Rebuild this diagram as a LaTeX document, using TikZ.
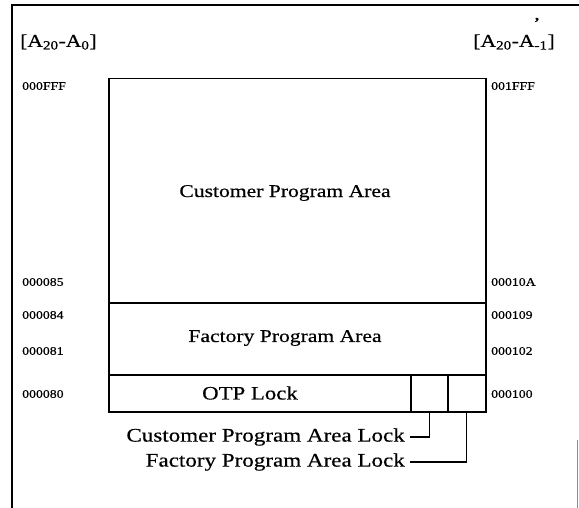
\documentclass[tikz,border=0pt]{standalone}
\usepackage{fontspec}
\setmainfont{Liberation Serif}[FakeStretch=1.2,FakeBold=0.5]
\begin{document}
\begin{tikzpicture}[x=1pt,y=-1pt,
  area/.style={draw,line width=1.5pt,inner sep=0pt,anchor=north west},
  big/.style={font=\fontsize{18}{20}\selectfont,inner sep=2pt},
  lbl/.style={font=\fontsize{19.2}{21}\selectfont,inner sep=5pt},
  addr/.style={font=\fontsize{11.5}{13}\selectfont,inner sep=0pt},
  hdr/.style={font=\fontsize{18}{20}\selectfont,inner sep=0pt},
  frame/.style={line width=2pt},
  lead/.style={line width=1.3pt}]
\useasboundingbox (0,0) rectangle (579,508);
% outer frame
\coordinate (ftl) at (12,5);
\coordinate (fbl) at (12,508);
\coordinate (ftr) at (579,5);
\coordinate (frt) at (577,440);
\coordinate (frb) at (577,508);
\draw[frame] (fbl) -- (ftl) -- (ftr);
\draw[line width=1pt,black!45] (frt) -- (frb);
\node[font=\fontsize{14}{14}\selectfont\bfseries,inner sep=0pt] (tick) at (537,20) {,};
% memory areas
\node[area,minimum width=377pt,minimum height=224pt] (cust) at (108,78) {};
\node[area,minimum width=377pt,minimum height=72pt] (fact) at (108,302) {};
\node[area,minimum width=302pt,minimum height=37pt] (otp) at (108,374) {};
\node[area,minimum width=37pt,minimum height=37pt] (lockc) at (410,374) {};
\node[area,minimum width=38pt,minimum height=37pt] (lockf) at (447,374) {};
\node[big] (custt) at (285,193) {Customer Program Area};
\node[big] (factt) at (285,338) {Factory Program Area};
\node[big,font=\fontsize{19}{21}\selectfont] (otpt) at (250,393) {OTP Lock};
% headers
\node[hdr,anchor=west] (hl) at (20,42) {[A\textsubscript{20}-A\textsubscript{0}]};
\node[hdr,anchor=east] (hr) at (555,42) {[A\textsubscript{20}-A\textsubscript{-1}]};
% left addresses
\node[addr,anchor=west] (l1) at (22,86) {000FFF};
\node[addr,anchor=west] (l2) at (22,282) {000085};
\node[addr,anchor=west] (l3) at (22,315) {000084};
\node[addr,anchor=west] (l4) at (22,351) {000081};
\node[addr,anchor=west] (l5) at (22,394) {000080};
% right addresses
\node[addr,anchor=west] (r1) at (491,86) {001FFF};
\node[addr,anchor=west] (r2) at (491,282) {00010A};
\node[addr,anchor=west] (r3) at (491,315) {000109};
\node[addr,anchor=west] (r4) at (491,351) {000102};
\node[addr,anchor=west] (r5) at (491,394) {000100};
% lock labels
\node[lbl,anchor=east] (cl) at (410,437) {Customer Program Area Lock};
\node[lbl,anchor=east] (fl) at (410,462) {Factory Program Area Lock};
\draw[lead] (lockc.south) |- (cl.east);
\draw[lead] (lockf.south) |- (fl.east);
\end{tikzpicture}
\end{document}
